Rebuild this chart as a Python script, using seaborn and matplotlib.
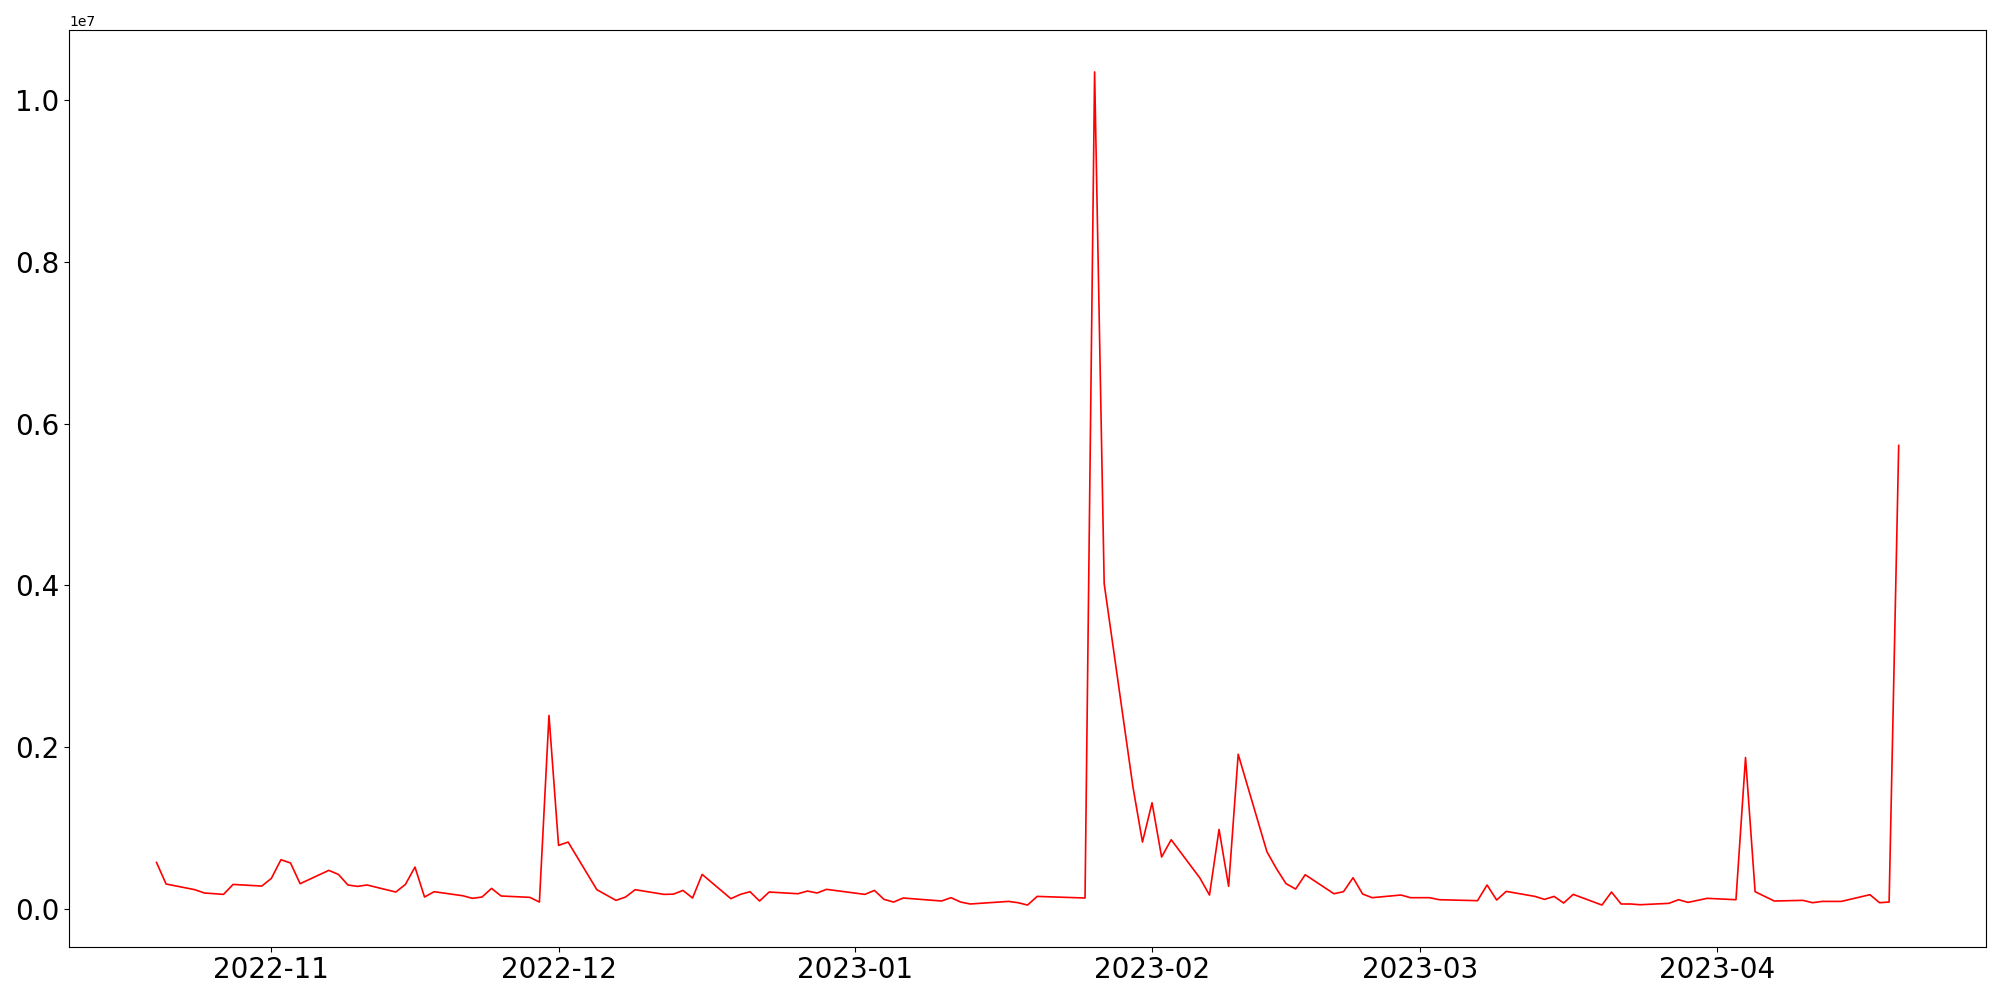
"""Daily volume line chart, Oct 2022 - Apr 2023."""

import matplotlib
import matplotlib.pyplot as plt
import pandas as pd
import seaborn as sns

matplotlib.use("Agg")

dates = [
    "2022-10-20", "2022-10-21", "2022-10-24", "2022-10-25", "2022-10-27", "2022-10-28",
    "2022-10-31", "2022-11-01", "2022-11-02", "2022-11-03", "2022-11-04", "2022-11-07",
    "2022-11-08", "2022-11-09", "2022-11-10", "2022-11-11", "2022-11-14", "2022-11-15",
    "2022-11-16", "2022-11-17", "2022-11-18", "2022-11-21", "2022-11-22", "2022-11-23",
    "2022-11-24", "2022-11-25", "2022-11-28", "2022-11-29", "2022-11-30", "2022-12-01",
    "2022-12-02", "2022-12-05", "2022-12-07", "2022-12-08", "2022-12-09", "2022-12-12",
    "2022-12-13", "2022-12-14", "2022-12-15", "2022-12-16", "2022-12-19", "2022-12-20",
    "2022-12-21", "2022-12-22", "2022-12-23", "2022-12-26", "2022-12-27", "2022-12-28",
    "2022-12-29", "2023-01-02", "2023-01-03", "2023-01-04", "2023-01-05", "2023-01-06",
    "2023-01-10", "2023-01-11", "2023-01-12", "2023-01-13", "2023-01-17", "2023-01-18",
    "2023-01-19", "2023-01-20", "2023-01-25", "2023-01-26", "2023-01-27", "2023-01-30",
    "2023-01-31", "2023-02-01", "2023-02-02", "2023-02-03", "2023-02-06", "2023-02-07",
    "2023-02-08", "2023-02-09", "2023-02-10", "2023-02-13", "2023-02-14", "2023-02-15",
    "2023-02-16", "2023-02-17", "2023-02-20", "2023-02-21", "2023-02-22", "2023-02-23",
    "2023-02-24", "2023-02-27", "2023-02-28", "2023-03-02", "2023-03-03", "2023-03-07",
    "2023-03-08", "2023-03-09", "2023-03-10", "2023-03-13", "2023-03-14", "2023-03-15",
    "2023-03-16", "2023-03-17", "2023-03-20", "2023-03-21", "2023-03-22", "2023-03-23",
    "2023-03-24", "2023-03-27", "2023-03-28", "2023-03-29", "2023-03-31", "2023-04-03",
    "2023-04-04", "2023-04-05", "2023-04-07", "2023-04-10", "2023-04-11", "2023-04-12",
    "2023-04-14", "2023-04-17", "2023-04-18", "2023-04-19", "2023-04-20",
]

volume = [
    572000, 305000, 235000, 194000, 177000, 300000,
    280000, 375000, 606000, 565000, 309000, 474000,
    424000, 293000, 276000, 293000, 206000, 300000,
    515000, 144000, 210000, 160000, 128000, 144000,
    251000, 157000, 140000, 82000, 2390000, 783000,
    824000, 235000, 103000, 144000, 235000, 177000,
    180000, 226000, 132000, 424000, 124000, 177000,
    210000, 95000, 206000, 185000, 218000, 194000,
    239000, 177000, 226000, 115000, 82000, 132000,
    95000, 136000, 82000, 58000, 90000, 74000,
    45000, 152000, 132000, 10350000, 4020000, 1510000,
    824000, 1310000, 639000, 853000, 379000, 169000,
    980000, 276000, 1910000, 705000, 494000, 309000,
    243000, 420000, 185000, 210000, 383000, 181000,
    136000, 169000, 136000, 136000, 111000, 99000,
    293000, 107000, 214000, 152000, 115000, 152000,
    70000, 177000, 45000, 206000, 58000, 58000,
    49000, 66000, 111000, 78000, 128000, 111000,
    1870000, 210000, 95000, 103000, 74000, 90000,
    90000, 173000, 74000, 82000, 5730000,
]

df = pd.DataFrame({"date": pd.to_datetime(dates), "volume": volume})

fig, ax = plt.subplots(figsize=(20, 10), dpi=100)
sns.lineplot(data=df, x="date", y="volume", color="red", linewidth=1.2, ax=ax)
ax.set_xlabel("")
ax.set_ylabel("")
ax.tick_params(axis="both", labelsize=20)
fig.subplots_adjust(left=0.0347, right=0.9929, top=0.9697, bottom=0.0533)
fig.savefig("out.png", dpi=100)
plt.close(fig)
